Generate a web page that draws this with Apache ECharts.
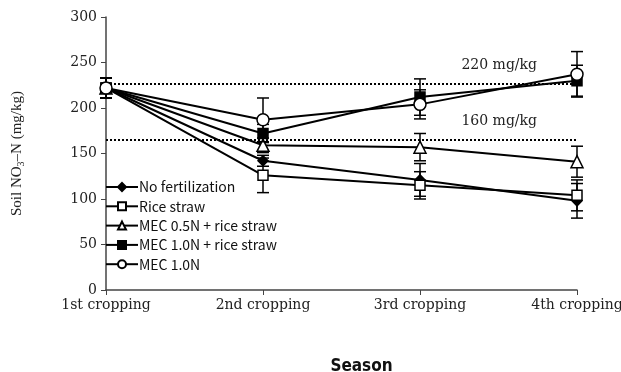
<!DOCTYPE html>
<html><head><meta charset="utf-8">
<script src="https://cdn.jsdelivr.net/npm/echarts@6/dist/echarts.min.js"></script>
<style>html,body{margin:0;padding:0;background:#fff}#c{width:621px;height:372px}</style>
</head><body><div id="c"></div>
<script>
const categories = ['1st cropping','2nd cropping','3rd cropping','4th cropping'];
const seriesNames = ['No fertilization','Rice straw','MEC 0.5N + rice straw','MEC 1.0N + rice straw','MEC 1.0N'];
const noFert = [222, 142, 121, 98];
const riceStraw = [222, 126, 115, 104];
const mec05rs = [222, 159, 157, 141];
const mec10rs = [222, 172, 212, 230];
const mec10 = [222, 187, 204, 237];
const errNoFert = [11, 6, 18, 19];
const errRiceStraw = [11, 19, 15, 17];
const errMec05rs = [11, 8, 15, 17];
const errMec10rs = [11, 10, 20, 17];
const errMec10 = [11, 24, 16, 25];
const thresholds = [227, 165];
const thresholdLabels = ['220 mg/kg', '160 mg/kg'];
const yTicks = [0, 300, 50];

const values = [noFert, riceStraw, mec05rs, mec10rs, mec10];
const errs = [errNoFert, errRiceStraw, errMec05rs, errMec10rs, errMec10];
const symbols = ['diamond','rect','triangle','rect','circle'];
const sizes = [10, 10, 12, 10, 12];
const fills = ['#000','#fff','#fff','#000','#fff'];

const chart = echarts.init(document.getElementById('c'));
const serif = '"DejaVu Serif",serif';
const sans = '"Noto Sans CJK KR","DejaVu Sans",sans-serif';

const series = [];
values.forEach((v, i) => {
  const s = {
    name: seriesNames[i], type: 'line', data: v,
    symbol: symbols[i], symbolSize: sizes[i],
    lineStyle: { color: '#000', width: 2 },
    itemStyle: { color: fills[i], borderColor: '#000', borderWidth: 1.5 },
    z: 5 + i
  };
  if (i === 0) {
    s.markLine = {
      silent: true, symbol: 'none',
      lineStyle: { color: '#000', type: [2, 2], width: 2 },
      label: { show: true, position: 'insideEndTop', distance: [40, 11], fontFamily: serif, fontSize: 14, color: '#222',
        formatter: p => thresholdLabels[p.dataIndex] },
      data: thresholds.map(t => ({ yAxis: t }))
    };
  }
  series.push(s);
  series.push({
    type: 'custom', z: 4 + i,
    data: v.map((y, k) => [k, y - errs[i][k], y + errs[i][k]]),
    renderItem: (params, api) => {
      const lo = api.coord([api.value(0), api.value(1)]);
      const hi = api.coord([api.value(0), api.value(2)]);
      const w = 6;
      const st = { stroke: '#000', lineWidth: 1.5 };
      return { type: 'group', children: [
        { type: 'line', shape: { x1: lo[0], y1: lo[1], x2: hi[0], y2: hi[1] }, style: st },
        { type: 'line', shape: { x1: lo[0]-w, y1: lo[1], x2: lo[0]+w, y2: lo[1] }, style: st },
        { type: 'line', shape: { x1: hi[0]-w, y1: hi[1], x2: hi[0]+w, y2: hi[1] }, style: st }
      ]};
    }
  });
});

chart.setOption({
  animation: false,
  grid: { left: 106, right: 44, top: 17, bottom: 82, containLabel: false, outerBoundsMode: 'none' },
  legend: {
    data: seriesNames, orient: 'vertical', left: 100, top: 175,
    itemWidth: 32, itemHeight: 10, itemGap: 5.3,
    textStyle: { fontFamily: sans, fontSize: 14, color: '#111', padding: [0,0,0,-4], lineHeight: 14 }
  },
  xAxis: {
    type: 'category', data: categories, boundaryGap: false,
    axisLine: { lineStyle: { color: '#444', width: 1.5 } },
    axisTick: { show: true, length: 5, lineStyle: { color: '#444' } },
    axisLabel: { fontFamily: serif, fontSize: 14, color: '#222', margin: 8, showMaxLabel: true, interval: 0, hideOverlap: false },
    name: 'Season', nameLocation: 'middle', nameGap: 68,
    nameTextStyle: { fontFamily: '"Liberation Sans Narrow","DejaVu Sans Condensed",sans-serif', fontWeight: 'bold', fontSize: 17, color: '#111', padding: [0,0,0,40] }
  },
  yAxis: {
    type: 'value', min: yTicks[0], max: yTicks[1], interval: yTicks[2],
    splitLine: { show: false },
    axisLine: { show: true, lineStyle: { color: '#444', width: 1.5 } },
    axisTick: { show: true, length: 5, lineStyle: { color: '#444' } },
    axisLabel: { fontFamily: serif, fontSize: 14, color: '#222', margin: 9 },
    name: '{a|Soil NO}{s|3}{a|–N (mg/kg)}', nameLocation: 'middle', nameGap: 80,
    nameTextStyle: { rich: {
      a: { fontFamily: '"Liberation Serif",serif', fontSize: 15, color: '#222' },
      s: { fontFamily: '"Liberation Serif",serif', fontSize: 10, color: '#222', padding: [8,0,0,0] }
    } }
  },
  series: series
});
</script></body></html>
